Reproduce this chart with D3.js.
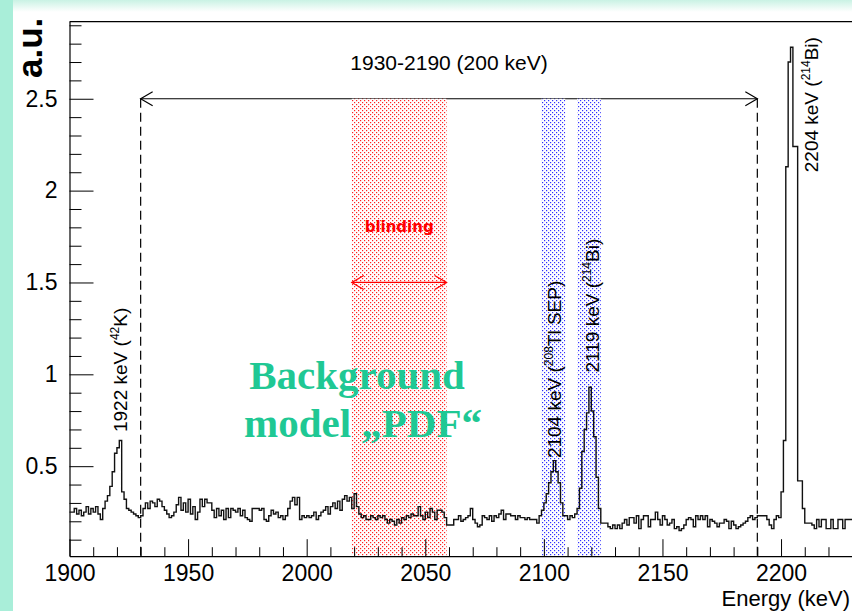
<!DOCTYPE html>
<html><head><meta charset="utf-8">
<script src="https://cdn.jsdelivr.net/npm/d3@7"></script>
<style>html,body{margin:0;padding:0;background:#fff;} svg{display:block;}</style>
</head><body>
<svg id="chart" width="852" height="611"></svg>
<script>
// ---------- data ----------
const binLow = 1900;   // keV, lower edge of first bin
const binWidth = 1;    // keV
const counts = [
  0.25,0.25,0.27,0.24,0.26,0.23,0.25,0.28,0.24,0.27,
  0.25,0.28,0.24,0.21,0.27,0.31,0.34,0.39,0.47,0.57,
  0.60,0.64,0.36,0.32,0.27,0.26,0.25,0.24,0.23,0.22,
  0.23,0.27,0.30,0.27,0.31,0.30,0.28,0.32,0.31,0.28,
  0.26,0.24,0.22,0.23,0.25,0.29,0.33,0.26,0.30,0.25,
  0.32,0.24,0.28,0.21,0.25,0.32,0.28,0.32,0.30,0.30,
  0.26,0.22,0.27,0.23,0.26,0.21,0.27,0.22,0.27,0.26,
  0.25,0.27,0.23,0.26,0.22,0.21,0.20,0.27,0.27,0.27,
  0.26,0.27,0.21,0.20,0.23,0.26,0.24,0.25,0.22,0.23,
  0.21,0.23,0.27,0.31,0.33,0.29,0.33,0.21,0.23,0.22,
  0.23,0.22,0.23,0.25,0.21,0.23,0.25,0.26,0.28,0.24,
  0.28,0.30,0.27,0.31,0.26,0.32,0.34,0.31,0.33,0.27,
  0.35,0.28,0.24,0.22,0.23,0.21,0.21,0.23,0.22,0.21,
  0.23,0.22,0.23,0.21,0.19,0.21,0.20,0.18,0.21,0.19,
  0.22,0.21,0.23,0.22,0.24,0.23,0.23,0.28,0.23,0.21,
  0.25,0.22,0.27,0.25,0.21,0.26,0.26,0.25,0.22,0.18,
  0.18,0.18,0.21,0.21,0.23,0.20,0.21,0.22,0.23,0.27,
  0.21,0.19,0.17,0.18,0.23,0.22,0.21,0.23,0.20,0.23,
  0.22,0.24,0.26,0.21,0.24,0.24,0.23,0.23,0.21,0.23,
  0.22,0.22,0.21,0.22,0.21,0.21,0.21,0.19,0.23,0.26,
  0.30,0.35,0.41,0.47,0.53,0.47,0.41,0.30,0.23,0.23,
  0.21,0.23,0.22,0.24,0.27,0.38,0.58,0.70,0.79,0.93,
  0.80,0.66,0.44,0.27,0.19,0.19,0.19,0.17,0.16,0.18,
  0.16,0.18,0.16,0.19,0.21,0.18,0.22,0.22,0.19,0.23,
  0.16,0.21,0.23,0.23,0.17,0.21,0.21,0.25,0.21,0.18,
  0.23,0.21,0.18,0.19,0.21,0.16,0.17,0.15,0.16,0.18,
  0.21,0.22,0.21,0.17,0.23,0.21,0.23,0.21,0.23,0.17,
  0.21,0.20,0.19,0.17,0.19,0.19,0.21,0.20,0.16,0.20,
  0.18,0.16,0.17,0.18,0.19,0.20,0.22,0.23,0.21,0.22,
  0.23,0.23,0.23,0.23,0.21,0.18,0.16,0.21,0.23,0.22,
  0.36,0.64,2.13,2.70,2.78,2.24,2.24,0.42,0.42,0.27,
  0.19,0.19,0.19,0.18,0.16,0.21,0.17,0.21,0.21,0.16,
  0.16,0.21,0.16,0.16,0.21,0.21,0.16,0.21,0.21,0.21
];
const xTickValues = [1900, 1950, 2000, 2050, 2100, 2150, 2200];
const yTickValues = [0.5, 1, 1.5, 2, 2.5];
const windowRange = [1930, 2190];
const windowLevel = 2.5;
const blindRange = [2019, 2059];
const blindLevel = 1.5;
const excludedBands = [[2099, 2109], [2114, 2124]];
const windowLabel = "1930-2190 (200 keV)";
const blindLabel = "blinding";
// peak labels: [main text, superscript isotope mass, rest]
const peakNames = [
  ["1922 keV (", "42", "K)"],
  ["2104 keV (", "208", "Tl SEP)"],
  ["2119 keV (", "214", "Bi)"],
  ["2204 keV (", "214", "Bi)"]
];
const peakLabelEnergy = [1924.2, 2107.3, 2123.3, 2215.6];
const peakLabelStart = [0.686, 0.544, 1.01, 2.10];
const xTitle = "Energy (keV)";
const yTitle = "a.u.";
const bigText = ["Background", "model \u201EPDF\u201C"];

// ---------- layout ----------
const W = 852, H = 611;
const svg = d3.select("#chart");
const x = d3.scaleLinear().domain([1900, 2230]).range([69.5, 852.2]);
const y = d3.scaleLinear().domain([0.01, 2.92]).range([556.2, 21.6]);
const font = "'Liberation Sans', Arial, Helvetica, sans-serif";

// background decoration
const defs = svg.append("defs");
const g1 = defs.append("linearGradient").attr("id","topg").attr("x1",0).attr("x2",0).attr("y1",0).attr("y2",1);
g1.append("stop").attr("offset","0%").attr("stop-color","#c9f2e4");
g1.append("stop").attr("offset","100%").attr("stop-color","#ffffff");
svg.append("rect").attr("x",0).attr("y",0).attr("width",W).attr("height",H).attr("fill","#fff");
svg.append("rect").attr("x",0).attr("y",0).attr("width",W).attr("height",12).attr("fill","url(#topg)");
svg.append("rect").attr("x",0).attr("y",0).attr("width",13).attr("height",H).attr("fill","#a9eed9");

// patterns
function dotPattern(id, color) {
  const p = defs.append("pattern").attr("id", id).attr("patternUnits","userSpaceOnUse")
    .attr("width",4).attr("height",4);
  p.append("rect").attr("width",4).attr("height",4).attr("fill","#fff");
  p.append("rect").attr("x",0).attr("y",0).attr("width",1.2).attr("height",1.2).attr("fill",color);
  p.append("rect").attr("x",2).attr("y",2).attr("width",1.2).attr("height",1.2).attr("fill",color);
}
dotPattern("redDots", "#ff2020");
dotPattern("blueDots", "#3030ff");

// arrow helper
function dblArrow(x1, x2, yy, color, w) {
  const g = svg.append("g").attr("stroke", color).attr("stroke-width", w).attr("fill","none");
  g.append("line").attr("x1",x1).attr("x2",x2).attr("y1",yy).attr("y2",yy);
  g.append("path").attr("d",`M${x1+12},${yy-7}L${x1},${yy}L${x1+12},${yy+7}`);
  g.append("path").attr("d",`M${x2-12},${yy-7}L${x2},${yy}L${x2-12},${yy+7}`);
}

// window arrow + dashed lines
dblArrow(x(windowRange[0]), x(windowRange[1]), y(windowLevel), "#000", 1.2);
windowRange.forEach(e => {
  svg.append("line").attr("x1",x(e)).attr("x2",x(e)).attr("y1",y(windowLevel)).attr("y2",y(0.01))
    .attr("stroke","#000").attr("stroke-width",1.2).attr("stroke-dasharray","9,5");
});
svg.append("text").attr("x", x((windowRange[0]+windowRange[1])/2)).attr("y", 70)
  .attr("text-anchor","middle").attr("font-family",font).attr("font-size",21).text(windowLabel);

// bands
svg.append("rect").attr("x",x(blindRange[0])).attr("y",y(windowLevel))
  .attr("width",x(blindRange[1])-x(blindRange[0])).attr("height",y(0.01)-y(windowLevel))
  .attr("fill","url(#redDots)");
excludedBands.forEach(b => {
  svg.append("rect").attr("x",x(b[0])).attr("y",y(windowLevel))
    .attr("width",x(b[1])-x(b[0])).attr("height",y(0.01)-y(windowLevel))
    .attr("fill","url(#blueDots)");
});
dblArrow(x(blindRange[0]), x(blindRange[1]), y(blindLevel), "#ff0000", 1.2);
svg.append("text").attr("x", x((blindRange[0]+blindRange[1])/2)).attr("y", y(blindLevel)-50)
  .attr("text-anchor","middle").attr("font-family","'DejaVu Sans', Verdana, sans-serif")
  .attr("font-weight","bold").attr("font-size",15).attr("fill","#ff0000").text(blindLabel);

// axes
const axX = d3.axisBottom(x).tickValues(xTickValues).tickFormat(d3.format("d"))
  .tickSizeInner(-17).tickSizeOuter(0).tickPadding(8);
const minorX = d3.range(1900, 2231, 10).filter(v => v % 50 !== 0);
const axXm = d3.axisBottom(x).tickValues(minorX).tickFormat("").tickSizeInner(-9).tickSizeOuter(0);
const gx = svg.append("g").attr("transform",`translate(0,${y(0.01)})`).call(axX);
svg.append("g").attr("transform",`translate(0,${y(0.01)})`).call(axXm).select(".domain").remove();

const axY = d3.axisLeft(y).tickValues(yTickValues).tickFormat(d => String(d))
  .tickSizeInner(-24).tickSizeOuter(0).tickPadding(12);
const minorY = d3.range(1, 30).map(v => v / 10).filter(v => Math.abs(v*2 - Math.round(v*2)) > 1e-6);
const axYm = d3.axisLeft(y).tickValues(minorY).tickFormat("").tickSizeInner(-12).tickSizeOuter(0);
const gy = svg.append("g").attr("transform",`translate(${x(1900)},0)`).call(axY);
svg.append("g").attr("transform",`translate(${x(1900)},0)`).call(axYm).select(".domain").remove();
svg.selectAll(".tick line").attr("stroke","#000").attr("stroke-width",1);
svg.selectAll(".domain").attr("stroke","#000").attr("stroke-width",1.2);
svg.selectAll(".tick text").attr("font-family",font).attr("font-size",23).attr("fill","#000");
// top frame line
svg.append("line").attr("x1",x(1900)).attr("x2",W).attr("y1",y(2.92)).attr("y2",y(2.92))
  .attr("stroke","#000").attr("stroke-width",1.2);

// histogram
let d = `M${x(binLow)},${y(counts[0])}`;
counts.forEach((c, i) => {
  if (i > 0) d += `V${y(c)}`;
  d += `H${x(binLow + (i+1)*binWidth)}`;
});
svg.append("path").attr("d", d).attr("fill","none").attr("stroke","#111").attr("stroke-width",1.4);

// peak labels
peakNames.forEach((p, i) => {
  const t = svg.append("text")
    .attr("transform", `translate(${x(peakLabelEnergy[i])},${y(peakLabelStart[i])}) rotate(-90)`)
    .attr("font-family", font).attr("font-size", 19).attr("fill","#000");
  t.append("tspan").text(p[0]);
  t.append("tspan").attr("dy", -8).attr("font-size", 12).text(p[1]);
  t.append("tspan").attr("dy", 8).text(p[2]);
});

// axis titles
svg.append("text").attr("x", 850).attr("y", 606).attr("text-anchor","end")
  .attr("font-family",font).attr("font-size",22).text(xTitle);
svg.append("text").attr("transform","translate(42,78) rotate(-90)")
  .attr("font-family",font).attr("font-weight","bold").attr("font-size",35).text(yTitle);

// overlay annotation text
const bt = [[357, 389], [363, 437]];
bigText.forEach((s, i) => {
  svg.append("text").attr("x", bt[i][0]).attr("y", bt[i][1]).attr("text-anchor","middle")
    .attr("font-family","'Liberation Serif', 'Times New Roman', serif").attr("font-weight","bold")
    .attr("font-size",41).attr("fill","#1fc894").text(s);
});
</script>
</body></html>
